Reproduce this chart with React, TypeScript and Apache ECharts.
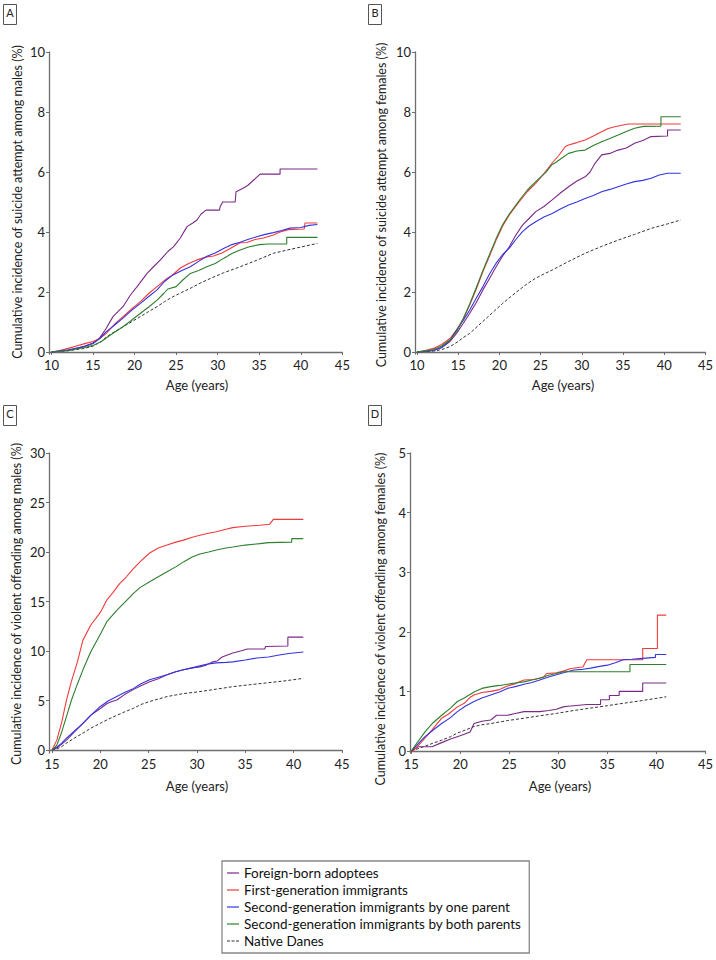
import React, { useEffect, useRef } from "react";
import * as echarts from "echarts";

type Pt = [number, number];

const seriesNames = [
  "Foreign-born adoptees",
  "First-generation immigrants",
  "Second-generation immigrants by one parent",
  "Second-generation immigrants by both parents",
  "Native Danes",
];
const seriesColors = ["#7a2a86", "#f23a3a", "#3434e0", "#2e7f2e", "#333333"];

const xTicksAB = [10, 15, 20, 25, 30, 35, 40, 45];
const xTicksCD = [15, 20, 25, 30, 35, 40, 45];
const yTicksAB = [0, 2, 4, 6, 8, 10];
const yTicksC = [0, 5, 10, 15, 20, 25, 30];
const yTicksD = [0, 1, 2, 3, 4, 5];

// Panel A: suicide attempt, males
const A_adoptees: Pt[] = [[10,0],[12,0.05],[14,0.2],[15,0.3],[15.8,0.47],[16.5,0.75],[17.4,1.18],[18.6,1.51],[19.5,1.9],[20.3,2.18],[21.5,2.62],[22.3,2.85],[23.1,3.07],[24,3.35],[24.7,3.51],[25.5,3.8],[26.3,4.18],[27,4.3],[27.5,4.4],[28,4.6],[28.6,4.73],[30.2,4.73],[30.3,4.85],[30.6,5.0],[32.1,5.0],[32.2,5.34],[33,5.45],[33.6,5.55],[34.2,5.7],[35.1,5.93],[37.5,5.93],[37.5,6.1],[42,6.1]];
const A_first: Pt[] = [[10,0],[11,0.05],[12,0.12],[13,0.2],[14,0.28],[15,0.35],[15.8,0.45],[16.6,0.62],[17.5,0.9],[18.6,1.18],[19.5,1.4],[20.7,1.68],[21.7,1.95],[22.7,2.18],[23.9,2.45],[24.5,2.55],[25.5,2.8],[26.5,2.95],[27.5,3.07],[28.7,3.17],[29.5,3.2],[30.5,3.3],[31.5,3.45],[32.7,3.64],[33.5,3.65],[34.5,3.75],[35.5,3.8],[36.7,3.9],[37.5,4.0],[38.5,4.08],[40.4,4.1],[40.5,4.3],[42,4.3]];
const A_oneParent: Pt[] = [[10,0],[12,0.07],[14,0.18],[15,0.28],[15.8,0.45],[16.6,0.68],[17.6,0.9],[18.6,1.13],[19.6,1.38],[20.7,1.62],[21.7,1.85],[22.7,2.07],[23.6,2.35],[24.6,2.57],[25.7,2.72],[26.7,2.84],[27.7,3.02],[28.7,3.19],[29.7,3.3],[30.7,3.45],[31.7,3.58],[32.7,3.66],[33.7,3.76],[34.7,3.84],[35.7,3.92],[36.7,3.98],[37.7,4.05],[38.7,4.13],[40,4.15],[41,4.22],[42,4.25]];
const A_bothParents: Pt[] = [[10,0],[12,0.05],[14,0.15],[15,0.22],[16,0.35],[17,0.55],[18.6,0.84],[19.6,1.05],[20.7,1.29],[21.7,1.5],[22.7,1.73],[23.5,1.95],[24,2.1],[25,2.18],[25.8,2.4],[26.7,2.62],[27.7,2.72],[28.7,2.84],[29.7,2.95],[30.7,3.12],[31.7,3.28],[32.7,3.4],[33.7,3.5],[35,3.58],[36,3.6],[38.3,3.6],[38.3,3.82],[42,3.82]];
const A_native: Pt[] = [[10,0],[12,0.04],[14,0.12],[15,0.2],[16,0.35],[16.6,0.5],[17.6,0.68],[18.6,0.84],[19.6,1.0],[20.7,1.18],[21.7,1.35],[22.7,1.51],[23.6,1.68],[24.6,1.84],[25.6,1.98],[26.7,2.12],[27.7,2.27],[28.7,2.4],[30.7,2.64],[32.7,2.84],[34.7,3.06],[36.7,3.29],[38.7,3.42],[40.5,3.53],[42,3.62]];

// Panel B: suicide attempt, females
const B_adoptees: Pt[] = [[10,0],[12,0.05],[13,0.15],[14,0.35],[14.8,0.62],[15.6,0.95],[16.4,1.29],[17.2,1.65],[18,2.07],[18.8,2.45],[19.6,2.84],[20.4,3.2],[21.2,3.51],[22,3.9],[22.8,4.23],[23.6,4.45],[24.4,4.68],[25.4,4.85],[26.4,5.07],[27.4,5.3],[28.4,5.51],[29.4,5.7],[30.4,5.84],[31,6.0],[31.6,6.29],[32.4,6.57],[33.4,6.62],[34.4,6.73],[35.4,6.8],[36.4,6.96],[37.4,7.05],[38.4,7.18],[40.4,7.2],[40.4,7.4],[42,7.4]];
const B_first: Pt[] = [[10,0],[11,0.05],[12,0.12],[13,0.25],[14,0.45],[14.8,0.73],[15.6,1.1],[16.4,1.57],[17.2,2.1],[18,2.68],[18.8,3.2],[19.6,3.73],[20.4,4.2],[21.2,4.57],[22.4,5.01],[23.4,5.35],[24.4,5.62],[25.6,6.01],[26.4,6.3],[27.2,6.55],[28,6.85],[28.4,6.9],[29.4,6.98],[30.4,7.07],[31.4,7.2],[32.4,7.34],[33.2,7.45],[34,7.51],[35.6,7.6],[42,7.6]];
const B_oneParent: Pt[] = [[10,0],[12,0.05],[13,0.15],[14,0.38],[14.8,0.73],[15.6,1.05],[16.4,1.4],[17.2,1.8],[18,2.18],[18.8,2.6],[19.6,2.96],[20.4,3.25],[21.2,3.46],[22,3.75],[22.8,4.01],[23.6,4.2],[24.4,4.34],[25.4,4.5],[26.4,4.62],[27.4,4.77],[28.4,4.9],[29.4,5.0],[30.4,5.12],[31.4,5.22],[32.4,5.34],[33.4,5.42],[34.4,5.51],[35.4,5.6],[36.4,5.68],[37.4,5.72],[38.4,5.79],[39.4,5.9],[40.4,5.96],[42,5.96]];
const B_bothParents: Pt[] = [[10,0],[12,0.08],[13,0.2],[14,0.4],[14.8,0.68],[15.6,1.1],[16.4,1.6],[17.2,2.15],[18,2.72],[18.8,3.25],[19.6,3.78],[20.4,4.25],[21.2,4.6],[22.4,5.05],[23.4,5.4],[24.4,5.68],[25.6,5.98],[26.4,6.25],[26.8,6.31],[27.5,6.45],[28.4,6.62],[29.4,6.7],[30.4,6.73],[31.4,6.88],[32.4,7.01],[33.4,7.12],[34.4,7.23],[35.4,7.35],[36.4,7.46],[37.5,7.52],[39.6,7.53],[39.6,7.84],[42,7.84]];
const B_native: Pt[] = [[10,0],[12,0.03],[13,0.08],[14,0.18],[15,0.35],[15.6,0.48],[16.4,0.62],[17.4,0.87],[18.4,1.12],[19.4,1.37],[20.4,1.62],[21.4,1.85],[22.4,2.07],[23.4,2.28],[24.4,2.46],[25.4,2.6],[26.4,2.73],[28.4,3.02],[30.4,3.29],[32.4,3.52],[34.4,3.73],[36.4,3.92],[38.4,4.12],[40.4,4.27],[42,4.4]];

// Panel C: violent offending, males
const C_adoptees: Pt[] = [[15,0],[15.5,0.2],[16,0.6],[16.5,1.0],[17.3,1.8],[18.2,2.7],[19,3.5],[20,4.2],[20.7,4.7],[21.2,4.9],[21.7,5.05],[22.5,5.6],[23.4,6.1],[24.2,6.5],[25.1,6.9],[26,7.2],[26.9,7.6],[27.8,7.9],[28.6,8.1],[29.5,8.3],[30.3,8.4],[31,8.6],[31.6,8.9],[32.1,9.0],[32.6,9.4],[33.7,9.8],[34.5,10.0],[35.2,10.2],[37,10.2],[37.1,10.45],[39.4,10.5],[39.4,11.4],[41,11.4]];
const C_first: Pt[] = [[15,0],[15.5,1.0],[16,2.8],[16.5,5.05],[17,6.9],[17.6,8.8],[18.2,11.1],[19,12.6],[20,13.9],[20.7,15.2],[21.3,15.9],[22,16.8],[22.7,17.5],[23.4,18.3],[24.1,19.0],[25.1,19.9],[26,20.4],[26.9,20.7],[27.8,21.0],[28.6,21.2],[29.5,21.5],[30.3,21.7],[31.2,21.9],[32,22.05],[33,22.3],[33.7,22.46],[35,22.6],[36.5,22.7],[37.5,22.8],[37.9,23.3],[41,23.3]];
const C_oneParent: Pt[] = [[15,0],[15.5,0.3],[16,0.7],[16.5,1.2],[17.3,1.9],[18.2,2.7],[19,3.5],[20,4.4],[20.8,4.95],[21.7,5.4],[22.5,5.8],[23.4,6.2],[24.2,6.7],[25.1,7.1],[26,7.35],[26.9,7.6],[27.8,7.9],[28.6,8.1],[29.5,8.3],[30.3,8.5],[31.2,8.7],[32,8.8],[33,8.85],[33.7,8.9],[35,9.1],[36.2,9.3],[37.4,9.4],[38.5,9.6],[39.5,9.75],[41,9.9]];
const C_bothParents: Pt[] = [[15,0],[15.5,0.5],[16,1.8],[16.5,3.4],[17,5.0],[17.6,6.6],[18.2,8.1],[19,9.9],[20,11.7],[20.7,13.0],[21.7,14.1],[22.7,15.1],[23.4,15.8],[24.1,16.4],[25.1,17.0],[26,17.5],[26.9,18.0],[27.8,18.5],[28.6,19.0],[29.5,19.5],[30.3,19.8],[31.2,20.0],[32,20.2],[33,20.4],[33.7,20.5],[35,20.7],[36.5,20.85],[37.4,20.95],[39.8,21.0],[39.8,21.35],[41,21.35]];
const C_native: Pt[] = [[15,0],[15.5,0.1],[16,0.35],[16.5,0.7],[17.3,1.2],[18.2,1.7],[19,2.2],[20,2.7],[20.8,3.1],[21.7,3.5],[22.5,3.85],[23.4,4.2],[24.2,4.6],[25.1,4.9],[26,5.15],[26.9,5.4],[28.6,5.7],[30.3,5.9],[32,6.15],[33.7,6.4],[35.5,6.6],[37.4,6.8],[39.2,7.0],[41,7.24]];

// Panel D: violent offending, females
const D_adoptees: Pt[] = [[15,0],[15.7,0.07],[17.1,0.07],[18.1,0.14],[19,0.2],[19.7,0.24],[20.4,0.28],[21,0.32],[21.4,0.46],[22.2,0.5],[23.1,0.52],[23.7,0.6],[24.8,0.6],[25.6,0.63],[26.5,0.66],[28.1,0.66],[29,0.68],[29.8,0.7],[30.5,0.74],[31,0.75],[32.9,0.78],[34.3,0.78],[34.3,0.86],[35.2,0.86],[35.2,0.93],[36.2,0.93],[36.2,1.0],[38.6,1.0],[38.6,1.14],[41,1.14]];
const D_first: Pt[] = [[15,0],[15.2,0],[16.1,0.16],[17.1,0.35],[18.1,0.55],[18.8,0.62],[19.7,0.74],[20.4,0.8],[21,0.9],[21.4,0.94],[22.2,0.98],[23.1,1.0],[24,1.03],[24.8,1.09],[25.6,1.13],[26.5,1.19],[27.5,1.2],[28.5,1.24],[28.8,1.3],[29.8,1.31],[30.5,1.34],[31.2,1.38],[32,1.4],[32.5,1.41],[32.9,1.53],[38.6,1.53],[38.6,1.72],[40.1,1.72],[40.1,2.28],[41,2.28]];
const D_oneParent: Pt[] = [[15,0],[15.3,0.05],[16.4,0.24],[17.3,0.36],[18.1,0.46],[19,0.56],[19.7,0.66],[20.5,0.75],[21.4,0.83],[22.2,0.89],[23.1,0.94],[24,0.99],[24.8,1.05],[25.6,1.08],[26.5,1.12],[27.3,1.15],[28.1,1.19],[29,1.24],[29.8,1.28],[30.7,1.32],[31.6,1.36],[32.5,1.37],[33.3,1.39],[34.2,1.42],[35,1.44],[35.8,1.48],[36.6,1.53],[37.5,1.54],[38.3,1.55],[39.9,1.57],[39.9,1.62],[41,1.62]];
const D_bothParents: Pt[] = [[15,0],[15.3,0.07],[16.4,0.32],[17.2,0.47],[18.1,0.6],[19,0.72],[19.7,0.83],[20.4,0.89],[21.4,0.99],[22.2,1.05],[23.1,1.08],[24,1.1],[24.8,1.12],[25.6,1.14],[26.5,1.16],[27.3,1.19],[28.1,1.22],[29,1.27],[29.8,1.3],[30.5,1.33],[37.3,1.33],[37.3,1.45],[41,1.45]];
const D_native: Pt[] = [[15,0],[16.4,0.08],[17.2,0.13],[18.1,0.18],[19,0.24],[19.7,0.3],[20.5,0.35],[21.4,0.41],[22.2,0.44],[23.1,0.46],[24.8,0.51],[26.5,0.55],[28.1,0.59],[29.8,0.63],[31.6,0.68],[33.3,0.72],[35,0.76],[36.6,0.8],[38.3,0.84],[39.9,0.88],[41,0.91]];

const panelData: Pt[][][] = [
  [A_adoptees, A_first, A_oneParent, A_bothParents, A_native],
  [B_adoptees, B_first, B_oneParent, B_bothParents, B_native],
  [C_adoptees, C_first, C_oneParent, C_bothParents, C_native],
  [D_adoptees, D_first, D_oneParent, D_bothParents, D_native],
];

const panelLetters = ["A", "B", "C", "D"];
const yTitles = [
  "Cumulative incidence of suicide attempt among males (%)",
  "Cumulative incidence of suicide attempt among females (%)",
  "Cumulative incidence of violent offending among males (%)",
  "Cumulative incidence of violent offending among females (%)",
];
const xTitle = "Age (years)";

const FONT = "Lato, 'Noto Sans', sans-serif";

export default function App() {
  const ref = useRef<HTMLDivElement>(null);

  useEffect(() => {
    if (!ref.current) return;
    const chart = echarts.init(ref.current, undefined, { renderer: "svg" });

    const grids = [
      { left: 49, top: 52, width: 293.4, height: 302.1 },
      { left: 415, top: 52, width: 293, height: 302.1 },
      { left: 49, top: 453, width: 293, height: 300 },
      { left: 410, top: 453, width: 298, height: 300 },
    ];
    const xCfg = [
      { min: 9.7, max: 45, ticks: xTicksAB },
      { min: 9.76, max: 45, ticks: xTicksAB },
      { min: 14.69, max: 45, ticks: xTicksCD },
      { min: 14.87, max: 45, ticks: xTicksCD },
    ];
    const yCfg = [
      { min: -0.07, max: 10, ticks: yTicksAB },
      { min: -0.07, max: 10, ticks: yTicksAB },
      { min: -0.3, max: 30, ticks: yTicksC },
      { min: -0.034, max: 5, ticks: yTicksD },
    ];

    const axisLine = { show: true, lineStyle: { color: "#6e6e6e", width: 1.3 } };
    const labelStyle = { color: "#222", fontSize: 13, fontFamily: FONT };

    const xAxis = xCfg.map((c, i) => ({
      type: "value" as const,
      gridIndex: i,
      min: c.min,
      max: c.max,
      axisLine,
      axisTick: { show: true, length: 3, lineStyle: { color: "#6e6e6e" }, customValues: c.ticks },
      axisLabel: { ...labelStyle, margin: 4, customValues: c.ticks },
      splitLine: { show: false },
    }));
    const yAxis = yCfg.map((c, i) => ({
      type: "value" as const,
      gridIndex: i,
      min: c.min,
      max: c.max,
      axisLine,
      axisTick: { show: true, length: 3, lineStyle: { color: "#6e6e6e" }, customValues: c.ticks },
      axisLabel: { ...labelStyle, margin: 4, customValues: c.ticks },
      splitLine: { show: false },
    }));

    const series: any[] = [];
    panelData.forEach((panel, pi) => {
      panel.forEach((data, si) => {
        const isNative = si === 4;
        series.push({
          type: "line",
          name: seriesNames[si],
          xAxisIndex: pi,
          yAxisIndex: pi,
          data,
          showSymbol: false,
          symbol: "none",
          z: isNative ? 1 : 2 + si,
          color: seriesColors[si],
          lineStyle: {
            color: seriesColors[si],
            width: isNative ? 1 : 1.1,
            type: isNative ? [3, 2] : "solid",
          },
        });
      });
    });

    const letterBoxes = [
      { x: 3.5, y: 4.5 },
      { x: 368.5, y: 4.5 },
      { x: 3.5, y: 405.5 },
      { x: 368.5, y: 405.5 },
    ];
    const yTitlePos = [
      { x: 17, y: 202 },
      { x: 381, y: 205 },
      { x: 16, y: 604 },
      { x: 380, y: 619 },
    ];
    const xTitlePos = [
      { x: 197, y: 385 },
      { x: 563, y: 385 },
      { x: 197, y: 786 },
      { x: 560, y: 786 },
    ];

    const graphic: any[] = [];
    letterBoxes.forEach((b, i) => {
      graphic.push({
        type: "rect",
        shape: { x: b.x, y: b.y, width: 13, height: 20 },
        style: { fill: "#fff", stroke: "#555", lineWidth: 1 },
        z: 10,
      });
      graphic.push({
        type: "text",
        x: b.x + 6.5,
        y: b.y + 8,
        style: {
          text: panelLetters[i],
          fontSize: 11,
          fontFamily: FONT,
          fill: "#222",
          textAlign: "center",
          textVerticalAlign: "middle",
        },
        z: 11,
      });
    });
    yTitlePos.forEach((p, i) => {
      graphic.push({
        type: "text",
        x: p.x,
        y: p.y,
        rotation: Math.PI / 2,
        style: {
          text: yTitles[i],
          fontSize: 12.5,
          fontFamily: FONT,
          fill: "#222",
          textAlign: "center",
          textVerticalAlign: "middle",
        },
      });
    });
    xTitlePos.forEach((p) => {
      graphic.push({
        type: "text",
        x: p.x,
        y: p.y,
        style: {
          text: xTitle,
          fontSize: 13,
          fontFamily: FONT,
          fill: "#222",
          textAlign: "center",
          textVerticalAlign: "middle",
        },
      });
    });

    const dashIcon = "path://M0 0H3V1H0Z M4.5 0H7.5V1H4.5Z M9 0H12V1H9Z";
    const legendData = seriesNames.map((n, i) => ({
      name: n,
      icon: i === 4 ? dashIcon : "rect",
    }));

    chart.setOption({
      animation: false,
      backgroundColor: "#fff",
      grid: grids.map((g) => ({ ...g, containLabel: false })),
      xAxis,
      yAxis,
      series,
      legend: {
        data: legendData,
        orient: "vertical",
        left: 222,
        top: 861,
        padding: [5, 8, 5, 5],
        itemWidth: 12,
        itemHeight: 1.2,
        itemGap: 3,
        borderColor: "#888",
        borderWidth: 1.3,
        selectedMode: false,
        textStyle: { color: "#111", fontSize: 13.5, lineHeight: 14, fontFamily: FONT },
      },
      graphic,
    });

    return () => chart.dispose();
  }, []);

  return (
    <div
      ref={ref}
      style={{ position: "absolute", left: 0, top: 0, width: 716, height: 960, background: "#fff" }}
    />
  );
}
